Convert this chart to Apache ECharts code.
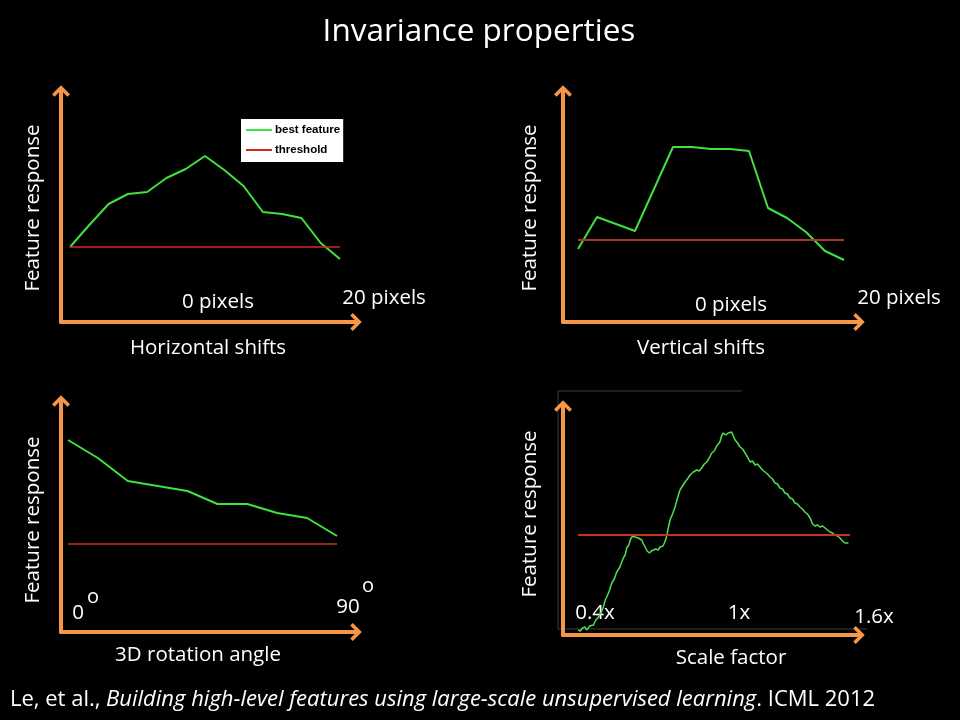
<!DOCTYPE html>
<html>
<head>
<meta charset="utf-8">
<script src="https://cdn.jsdelivr.net/npm/echarts@6/dist/echarts.min.js"></script>
<style>
  html, body { margin: 0; padding: 0; background: #000; }
  #chart { width: 960px; height: 720px; }
</style>
</head>
<body>
<div id="chart"></div>
<script>
// ---------- DATA ----------
const chartTitle = 'Invariance properties';
const yTitle = 'Feature response';
const xTitles = ['Horizontal shifts', 'Vertical shifts', '3D rotation angle', 'Scale factor'];

// Horizontal shifts (15 steps)
const horizontalSteps = [0, 1, 2, 3, 4, 5, 6, 7, 8, 9, 10, 11, 12, 13, 14];
const horizontalResponse = [75, 97, 118, 128, 130, 144, 153, 166, 152, 136, 110, 108, 104, 79, 63];
const horizontalThreshold = 75;
const horizontalTickLabels = ['0 pixels', '20 pixels'];

// Vertical shifts (15 steps)
const verticalSteps = [0, 1, 2, 3, 4, 5, 6, 7, 8, 9, 10, 11, 12, 13, 14];
const verticalResponse = [73, 105, 98, 91, 133, 175, 175, 173, 173, 171, 114, 104, 90, 71, 62];
const verticalThreshold = 82;
const verticalTickLabels = ['0 pixels', '20 pixels'];

// 3D rotation (10 steps)
const rotationSteps = [0, 1, 2, 3, 4, 5, 6, 7, 8, 9];
const rotationResponse = [192, 174, 151, 146, 141, 128, 128, 119, 114, 96];
const rotationThreshold = 88;
const rotationTickLabels = ['0', '90'];

// Scale factor
const scaleFactor = [0.400,0.410,0.420,0.431,0.438,0.445,0.452,0.460,0.468,0.479,0.490,0.501,0.512,0.520,0.527,0.538,0.549,0.560,0.571,0.578,
  0.585,0.593,0.600,0.608,0.615,0.624,0.632,0.641,0.651,0.658,0.666,0.674,0.681,0.689,0.696,0.705,0.715,0.724,0.732,0.743,
  0.754,0.762,0.769,0.775,0.781,0.788,0.794,0.800,0.806,0.817,0.828,0.839,0.850,0.861,0.872,0.883,0.894,0.909,0.924,0.935,
  0.946,0.957,0.968,0.979,0.990,1.001,1.012,1.019,1.026,1.033,1.041,1.052,1.063,1.070,1.078,1.085,1.093,1.104,1.115,1.126,
  1.137,1.148,1.159,1.170,1.181,1.192,1.203,1.214,1.225,1.236,1.247,1.258,1.269,1.280,1.291,1.302,1.313,1.324,1.335,1.346,
  1.357,1.368,1.379,1.390,1.401,1.412,1.424,1.435,1.446,1.457,1.468,1.479,1.490,1.501,1.512,1.523,1.534,1.545,1.556,1.567,
  1.578,1.586,1.593];
const scaleResponse = [5,4,7,8,5,6,9,8,10,15,18,22,28,35,38,44,52,56,63,64,
  68,73,77,80,87,90,96,99,98,100,97,98,95,91,88,84,82,84,83,86,
  85,88,87,89,92,96,102,109,115,121,128,137,145,149,153,156,160,163,165,164,
  167,171,173,177,182,184,189,190,193,199,202,200,202,204,203,199,195,192,188,186,
  182,178,173,174,170,171,168,165,163,161,158,156,152,151,147,146,142,141,137,136,
  132,131,128,126,123,121,117,111,109,110,108,109,107,105,103,102,100,99,97,94,
  92,93,92];
const scaleThreshold = 100;
const scaleRange = [0.4, 1.6];
const scaleTickLabels = ['0.4x', '1x', '1.6x'];

const citationAuthors = 'Le, et al., ';
const citationTitle = 'Building high-level features using large-scale unsupervised learning';
const citationVenue = '. ICML 2012';

// ---------- STYLE ----------
const ORANGE = '#F79646';
const FONT = 'Open Sans';
const arrowPath = 'path://M9,0 L18,9 L15.5,11.5 L9,5 L2.5,11.5 L0,9 Z';

function axisLine() {
  return {
    show: true,
    onZero: false,
    symbol: ['none', arrowPath],
    symbolSize: [18, 11.5],
    lineStyle: { color: ORANGE, width: 4 }
  };
}
function xAxis(gridIndex, min, max) {
  return { type: 'value', gridIndex, min, max, axisLine: axisLine(),
    axisTick: { show: false }, axisLabel: { show: false }, splitLine: { show: false } };
}
function yAxis(gridIndex, min, max) {
  return { type: 'value', gridIndex, min, max, axisLine: axisLine(),
    axisTick: { show: false }, axisLabel: { show: false }, splitLine: { show: false } };
}
function pairs(xs, ys) { return xs.map((x, i) => [x, ys[i]]); }
function lineSeries(name, idx, data, color, width) {
  return { type: 'line', name, xAxisIndex: idx, yAxisIndex: idx, data, symbol: 'none',
    lineStyle: { color, width }, itemStyle: { color }, silent: true, z: 3 };
}
function txt(x, y, text, size, rot) {
  const el = { type: 'text', x, y, silent: true,
    style: { text, fill: '#fff', font: size + 'px "' + FONT + '"',
      textAlign: 'center', textVerticalAlign: 'middle', align: 'center', verticalAlign: 'middle' } };
  if (rot) el.rotation = rot;
  return el;
}
function gline(x1, y1, x2, y2) {
  return { type: 'line', silent: true, z: -1, shape: { x1, y1, x2, y2 }, style: { stroke: '#3c3c3c', lineWidth: 1 } };
}

const hx = horizontalSteps, vx = verticalSteps, rx = rotationSteps;

const option = {
  backgroundColor: '#000',
  animation: false,
  grid: [
    { left: 61, top: 91, width: 295, height: 231 },
    { left: 563, top: 91, width: 296, height: 231 },
    { left: 61, top: 401, width: 295, height: 231 },
    { left: 563, top: 406, width: 296, height: 229 }
  ],
  xAxis: [
    xAxis(0, -0.467, 14.83),
    xAxis(1, -0.789, 14.79),
    xAxis(2, -0.234, 9.636),
    xAxis(3, 0.3338, 1.6397)
  ],
  yAxis: [
    yAxis(0, 0, 231),
    yAxis(1, 0, 231),
    yAxis(2, 0, 231),
    yAxis(3, 0, 229)
  ],
  legend: {
    data: ['best feature', 'threshold'],
    left: 241, top: 119, orient: 'vertical',
    backgroundColor: '#fff', padding: [4, 3, 5, 5],
    icon: 'rect',
    itemWidth: 26, itemHeight: 2, itemGap: 6,
    selectedMode: false,
    textStyle: { color: '#000', fontFamily: 'Liberation Sans', fontWeight: 'bold', fontSize: 11.5,
      lineHeight: 14, padding: [0, 0, 0, -2] }
  },
  series: [
    lineSeries('best feature', 0, pairs(hx, horizontalResponse), '#3fe23f', 2),
    lineSeries('threshold', 0, [[hx[0], horizontalThreshold], [hx[hx.length - 1], horizontalThreshold]], '#d42a1c', 1.5),
    lineSeries('vertical response', 1, pairs(vx, verticalResponse), '#3fe23f', 2),
    lineSeries('vertical threshold', 1, [[vx[0], verticalThreshold], [vx[vx.length - 1], verticalThreshold]], '#a8382a', 2),
    lineSeries('rotation response', 2, pairs(rx, rotationResponse), '#3fe23f', 2),
    lineSeries('rotation threshold', 2, [[rx[0], rotationThreshold], [rx[rx.length - 1], rotationThreshold]], '#c8321e', 1.5),
    lineSeries('scale response', 3, pairs(scaleFactor, scaleResponse), '#4ee04e', 1.5),
    lineSeries('scale threshold', 3, [[scaleRange[0], scaleThreshold], [scaleRange[1], scaleThreshold]], '#c8321e', 2)
  ],
  graphic: [
    txt(479, 32, chartTitle, 31.5),
    // y titles
    txt(33, 208, yTitle, 20.5, Math.PI / 2),
    txt(530, 208, yTitle, 20.5, Math.PI / 2),
    txt(33, 520, yTitle, 20.5, Math.PI / 2),
    txt(530, 514, yTitle, 20.5, Math.PI / 2),
    // x titles
    txt(208, 348, xTitles[0], 20.5),
    txt(701, 348, xTitles[1], 20.5),
    txt(198, 655, xTitles[2], 20.5),
    txt(731, 658, xTitles[3], 20.5),
    // tick texts
    txt(218, 302, horizontalTickLabels[0], 20.5),
    txt(384, 298, horizontalTickLabels[1], 20.5),
    txt(731, 305, verticalTickLabels[0], 20.5),
    txt(899, 298, verticalTickLabels[1], 20.5),
    txt(78, 613, rotationTickLabels[0], 20.5),
    txt(93, 597, 'o', 20),
    txt(348, 607, rotationTickLabels[1], 20.5),
    txt(368, 586, 'o', 20),
    txt(595, 613, scaleTickLabels[0], 20.5),
    txt(739, 613, scaleTickLabels[1], 20.5),
    txt(874, 617, scaleTickLabels[2], 20.5),
    // frame in scale panel
    gline(558, 391, 742, 391),
    gline(558, 391, 558, 629),
    gline(558, 629, 867, 629),
    // citation
    { type: 'text', x: 10, y: 700, silent: true,
      style: {
        text: '{n|' + citationAuthors + '}{i|' + citationTitle + '}{n|' + citationVenue + '}',
        fill: '#fff', font: '22px "' + FONT + '"',
        textVerticalAlign: 'middle', verticalAlign: 'middle',
        rich: {
          n: { fill: '#fff', fontFamily: FONT, fontSize: 22 },
          i: { fill: '#fff', fontFamily: FONT, fontSize: 22, fontStyle: 'italic' }
        }
      } }
  ]
};

const chart = echarts.init(document.getElementById('chart'));
chart.setOption(option);
</script>
</body>
</html>
